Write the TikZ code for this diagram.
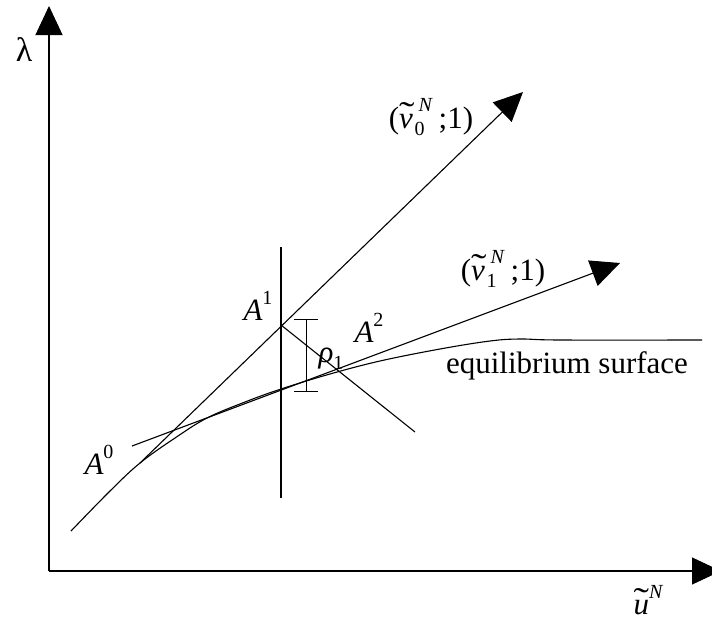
\documentclass[tikz,border=0pt]{standalone}
\usepackage{fontspec}
\usepackage{graphicx}
\setmainfont{Liberation Serif}
\usetikzlibrary{arrows.meta}
\newcommand{\wtl}[1]{\ooalign{\hfil\raisebox{0.08em}{\scalebox{1.5}[1.1]{\char"02DC}}\hfil\cr\itshape #1\cr}}
\newcommand{\supsub}[2]{\makebox[0pt][l]{\raisebox{0.55em}{\fontsize{20}{22}\selectfont\itshape #1}}\raisebox{-0.25em}{\fontsize{20}{22}\selectfont #2}}
\begin{document}
\begin{tikzpicture}[x=1pt,y=-1pt,
  ln/.style={line width=1.1pt},
  bigarrow/.style={-{Triangle[length=29pt,width=27pt]}},
  lab/.style={inner sep=0pt,font=\fontsize{31}{36}\selectfont}]
\useasboundingbox (0,0) rectangle (712,622);
% axes
\coordinate (O) at (49,571);
\coordinate (ytip) at (49,6);
\coordinate (xtip) at (721,571);
\draw[ln,bigarrow] (O) -- (ytip);
\draw[ln,bigarrow] (O) -- (xtip);
\node[lab,font=\fontsize{34}{38}\selectfont] (lam) at (24,50) {λ};
\node[lab] (ulab) at (648,600) {\wtl{u}\raisebox{0.5em}{\fontsize{20}{22}\selectfont\itshape N}};
% equilibrium curve
\coordinate (A0) at (140,463);
\coordinate (T) at (281,389);
\coordinate (A1) at (281,325);
\draw[ln] plot[smooth,tension=0.6] coordinates {(71,531) (110,491) (140,463) (175,438) (207,418) (245,402) (281,389) (330,374) (380,361) (440,349) (490,341) (520,339) (560,340) (702,340)};
\node[lab] (eq) at (567,366) {equilibrium surface};
% tangent lines
\coordinate (v0tip) at (523,92);
\coordinate (v1start) at (132,446);
\coordinate (v1tip) at (620,263);
\draw[ln,bigarrow] (A0) -- (v0tip);
\draw[ln,bigarrow] (v1start) -- (v1tip);
\node[lab] (v0lab) at (431,117) {(\wtl{v}\supsub{\hspace{0.2em}N}{0}\hspace{0.45em};1)};
\node[lab] (v1lab) at (503,269) {(\wtl{v}\supsub{\hspace{0.2em}N}{1}\hspace{0.45em};1)};
% vertical line and perpendicular
\coordinate (vtop) at (281,247);
\coordinate (vbot) at (281,498);
\draw[ln] (vtop) -- (vbot);
\coordinate (pend) at (415,432);
\draw[ln] (A1) -- (pend);
% error bar
\coordinate (et) at (306,319);
\coordinate (eb) at (306,391);
\draw[line width=0.9pt] (et) -- (eb);
\draw[line width=0.9pt] ([xshift=-12pt]et) -- ([xshift=12pt]et);
\draw[line width=0.9pt] ([xshift=-12pt]eb) -- ([xshift=12pt]eb);
% labels
\node[lab] (lA0) at (99,460) {{\itshape A}\raisebox{0.5em}{\fontsize{20}{22}\selectfont 0}};
\node[lab] (lA1) at (258,306) {{\itshape A}\raisebox{0.5em}{\fontsize{20}{22}\selectfont 1}};
\node[lab] (lA2) at (369,328) {{\itshape A}\raisebox{0.5em}{\fontsize{20}{22}\selectfont 2}};
\node[lab] (lrho) at (331,359) {{\itshape ρ}\raisebox{-0.2em}{\fontsize{20}{22}\selectfont 1}};
\end{tikzpicture}
\end{document}
